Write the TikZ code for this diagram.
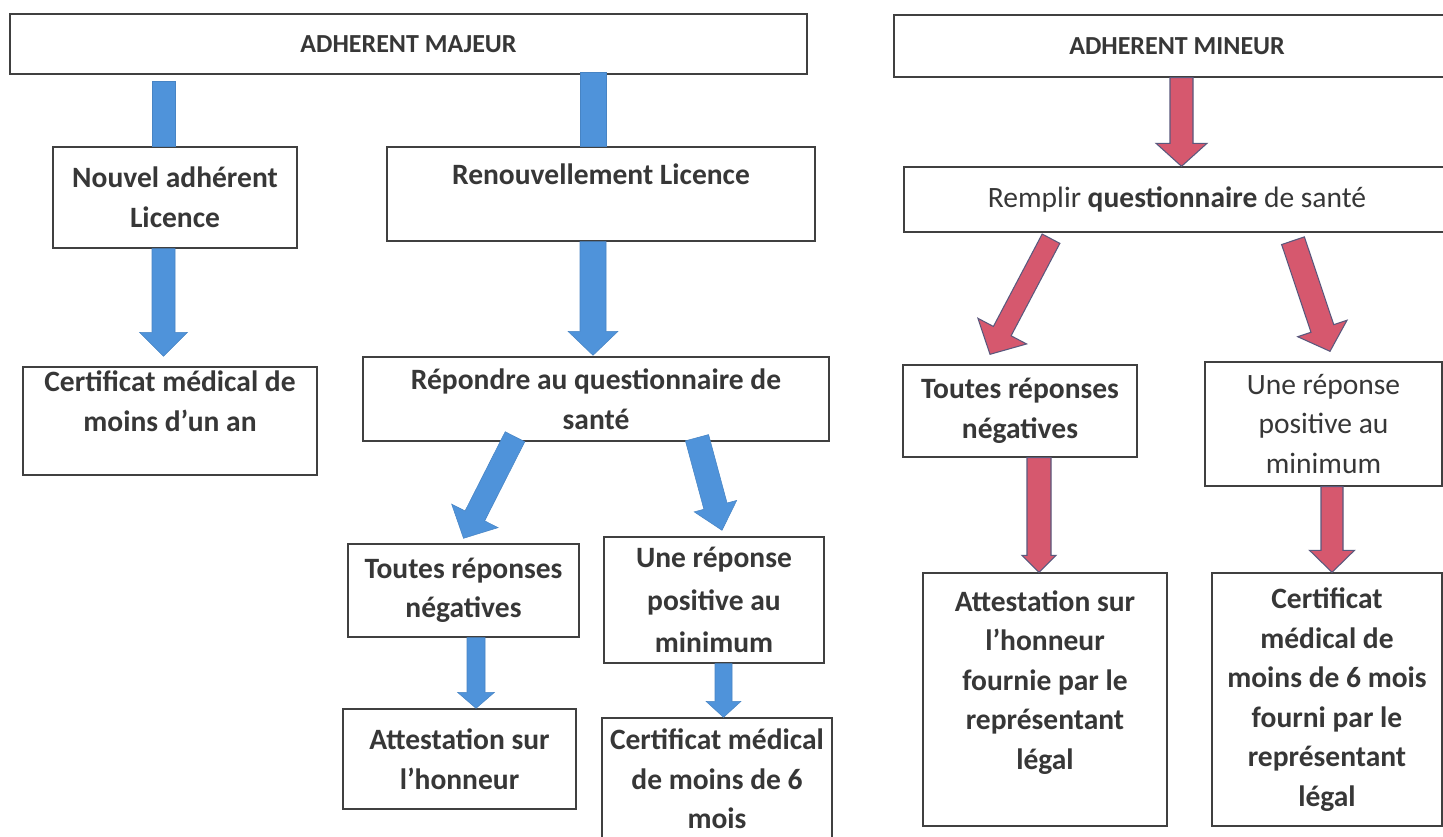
\documentclass[tikz,border=0pt]{standalone}
\usepackage{fontspec}
\setmainfont{Carlito}
\usetikzlibrary{calc}

\definecolor{arrowblue}{RGB}{79,147,218}
\definecolor{arrowred}{RGB}{214,88,110}
\definecolor{arrowedge}{RGB}{90,88,125}
\definecolor{inkgray}{RGB}{55,55,55}

\newcommand{\pxu}{0.02cm}
% block arrow: style, start, tip, half shaft, half head, head length (px)
\newcommand{\fatarrow}[6]{%
  \coordinate (faS) at (#2);
  \coordinate (faE) at (#3);
  \path[#1] let \p1=($(faE)-(faS)$), \n1={atan2(\y1,\x1)}, \n2={veclen(\x1,\y1)-#6*\pxu} in
    ($(faS)+(\n1+90:#4*\pxu)$) -- ($(faS)+(\n1:{\n2*1pt})+(\n1+90:#4*\pxu)$)
    -- ($(faS)+(\n1:{\n2*1pt})+(\n1+90:#5*\pxu)$) -- (faE)
    -- ($(faS)+(\n1:{\n2*1pt})+(\n1-90:#5*\pxu)$) -- ($(faS)+(\n1:{\n2*1pt})+(\n1-90:#4*\pxu)$)
    -- ($(faS)+(\n1-90:#4*\pxu)$) -- cycle;}

\begin{document}
\begin{tikzpicture}[x=0.02cm, y=-0.02cm,
  flowbox/.style={draw=black!75, line width=0.8pt, fill=white, inner sep=0pt, align=center,
    text=inkgray, font=\fontsize{16.8}{22.5}\selectfont\bfseries},
  titlebox/.style={flowbox, font=\fontsize{14.8}{18}\selectfont\bfseries},
  lightface/.style={font=\fontsize{16.8}{22.5}\selectfont},
  sz/.style 2 args={minimum width=#1*\pxu, minimum height=#2*\pxu},
  bluearrow/.style={fill=arrowblue, draw=arrowblue!90!black, line width=0.3pt},
  redarrow/.style={fill=arrowred, draw=arrowedge, line width=0.6pt}]

  \fill[white] (0,0) rectangle (1443,836);
  \useasboundingbox (0,0) rectangle (1443,836);

  % adherent majeur
  \node[titlebox, sz={797}{60}] (maj) at (408.5,44) {ADHERENT MAJEUR};
  \node[flowbox, sz={244}{101}] (nouv) at (175,197.5) {Nouvel adhérent\\Licence};
  \node[flowbox, sz={428}{94}] (ren) at (601,194) {Renouvellement Licence\\\mbox{}};
  \node[flowbox, sz={294}{108}] (cert1) at (170,421) {Certificat médical de\\moins d’un an\\\mbox{}};
  \node[flowbox, sz={466}{84}] (rep) at (596,399) {Répondre au questionnaire de\\santé};
  \node[flowbox, sz={231}{93}] (toutA) at (463.5,590.5) {Toutes réponses\\négatives};
  \node[flowbox, sz={220}{126}, font=\fontsize{16.8}{24}\selectfont\bfseries] (uneA) at (714,600) {Une réponse\\positive au\\minimum};
  \node[flowbox, sz={233}{100}] (attA) at (459.5,759) {Attestation sur\\l’honneur};
  \node[flowbox, sz={230}{122}] (certA) at (717,779) {Certificat médical\\de moins de 6\\mois};

  % adherent mineur
  \node[titlebox, sz={566}{62}] (min) at (1177,46) {ADHERENT MINEUR};
  \node[flowbox, sz={546}{65}] (remp) at (1177,199.5) {\mdseries Remplir \textbf{questionnaire} de santé};
  \node[flowbox, sz={234}{92}] (toutB) at (1020,411) {Toutes réponses\\négatives};
  \node[flowbox, lightface, sz={237}{124}] (uneB) at (1323.5,424) {Une réponse\\positive au\\minimum};
  \node[flowbox, sz={244}{253}] (attB) at (1045,699.5) {Attestation sur\\l’honneur\\fournie par le\\représentant\\légal\\\mbox{}};
  \node[flowbox, sz={230}{253}] (certB) at (1327,699.5) {Certificat\\médical de\\moins de 6 mois\\fourni par le\\représentant\\légal};

  % blue arrows
  \fatarrow{bluearrow}{$(nouv.north)+(-11.5,-65)$}{$(nouv.north)+(-11.5,0)$}{11.5}{11.5}{0}
  \fatarrow{bluearrow}{$(ren.north)+(-8,-74)$}{$(ren.north)+(-8,0)$}{13}{13}{0}
  \fatarrow{bluearrow}{$(nouv.south)+(-11.5,0)$}{$(cert1.north)+(-6.5,-10)$}{11.5}{24}{24}
  \fatarrow{bluearrow}{$(ren.south)+(-8,0)$}{$(rep.north)+(-3,-1)$}{13}{25}{24}
  \fatarrow{bluearrow}{$(rep.south)+(-81,-5)$}{$(toutA.north)+(0,-5)$}{11}{26}{25}
  \fatarrow{bluearrow}{$(rep.south)+(101,-4)$}{$(uneA.north)+(8,-6)$}{12}{22}{25}
  \fatarrow{bluearrow}{$(toutA.south)+(12.5,0)$}{$(attA.north)+(16.5,0)$}{9}{18.5}{16}
  \fatarrow{bluearrow}{$(uneA.south)+(9.5,0)$}{$(certA.north)+(6.5,0)$}{8.5}{17.5}{16}

  % red arrows
  \fatarrow{redarrow}{$(min.south)+(4.5,0)$}{$(remp.north)+(4.5,0)$}{11.5}{25.5}{23}
  \fatarrow{redarrow}{$(remp.south)+(-126,6)$}{$(toutB.north)+(-30,-10)$}{10}{27.5}{26}
  \fatarrow{redarrow}{$(remp.south)+(116,8)$}{$(uneB.north)+(6.5,-10)$}{12}{26}{24}
  \fatarrow{redarrow}{$(toutB.south)+(19,0)$}{$(attB.north)+(-6,0)$}{12}{17}{17}
  \fatarrow{redarrow}{$(uneB.south)+(8.5,0)$}{$(certB.north)+(5,0)$}{11}{22.5}{22}
\end{tikzpicture}
\end{document}
